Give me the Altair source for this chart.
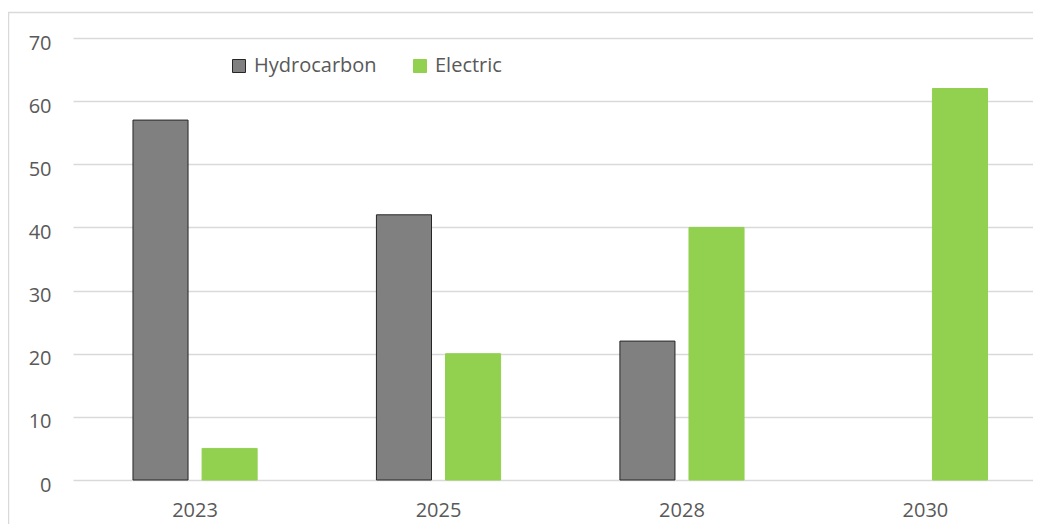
import altair as alt
import pandas as pd

years = ["2023", "2025", "2028", "2030"]
hydrocarbon = [57, 42, 22, None]
electric = [5, 20, 40, 62]
series = ["Hydrocarbon", "Electric"]
fill_colors = ["#808080", "#92D050"]
outline_colors = ["#262626", "#92D050"]
y_ticks = [0, 10, 20, 30, 40, 50, 60, 70]

rows = []
for yr, h, e in zip(years, hydrocarbon, electric):
    if h is not None:
        rows.append({"year": yr, "series": "Hydrocarbon", "value": h})
    if e is not None:
        rows.append({"year": yr, "series": "Electric", "value": e})
df = pd.DataFrame(rows)

W, H = 960, 442
FONT = "Open Sans"
TXT = "#595959"

legend_kw = dict(
    title=None, orient="none", legendX=156, legendY=18, direction="horizontal",
    symbolType="square", symbolSize=169, symbolStrokeWidth=1,
    labelFont=FONT, labelFontSize=20, labelColor=TXT, labelOffset=5,
    columnPadding=33,
)

bars = alt.Chart(df).mark_bar(strokeWidth=1).encode(
    x=alt.X("year:N", sort=years,
            scale=alt.Scale(domain=years, paddingInner=0.49, paddingOuter=0.2166, align=0.5687),
            axis=alt.Axis(title=None, labelAngle=0, domain=False, ticks=False, tickSize=0,
                          labelPadding=36, labelBaseline="alphabetic", grid=False,
                          labelFont=FONT, labelFontSize=20, labelColor=TXT)),
    xOffset=alt.XOffset("series:N", sort=series,
                        scale=alt.Scale(domain=series, paddingInner=0.203, paddingOuter=0)),
    y=alt.Y("value:Q", scale=alt.Scale(domain=[0, 70], nice=False),
            axis=alt.Axis(values=y_ticks, title=None, domain=False, ticks=False, tickSize=0,
                          labelPadding=22, labelOffset=5, labelBaseline="middle",
                          gridColor="#d9d9d9", gridWidth=1.5,
                          labelFont=FONT, labelFontSize=20, labelColor=TXT)),
    fill=alt.Fill("series:N", sort=series, scale=alt.Scale(domain=series, range=fill_colors),
                  legend=alt.Legend(**legend_kw)),
    stroke=alt.Stroke("series:N", sort=series, scale=alt.Scale(domain=series, range=outline_colors),
                      legend=alt.Legend(**legend_kw)),
)

frame = alt.Chart(pd.DataFrame({"f": [0]})).mark_rect(
    fill="transparent", stroke="#d9d9d9", strokeWidth=1.5
).encode(
    x=alt.value(-64.5), x2=alt.value(W + 60),
    y=alt.value(-25.5), y2=alt.value(H + 100),
)

chart = alt.layer(frame, bars).properties(
    width=W, height=H,
    autosize=alt.AutoSizeParams(type="none"),
    padding={"left": 65, "top": 30, "right": 0, "bottom": 44},
    background="white",
).configure_view(stroke=None)

chart.save("out.html", embed_options={"renderer": "svg", "actions": False})
